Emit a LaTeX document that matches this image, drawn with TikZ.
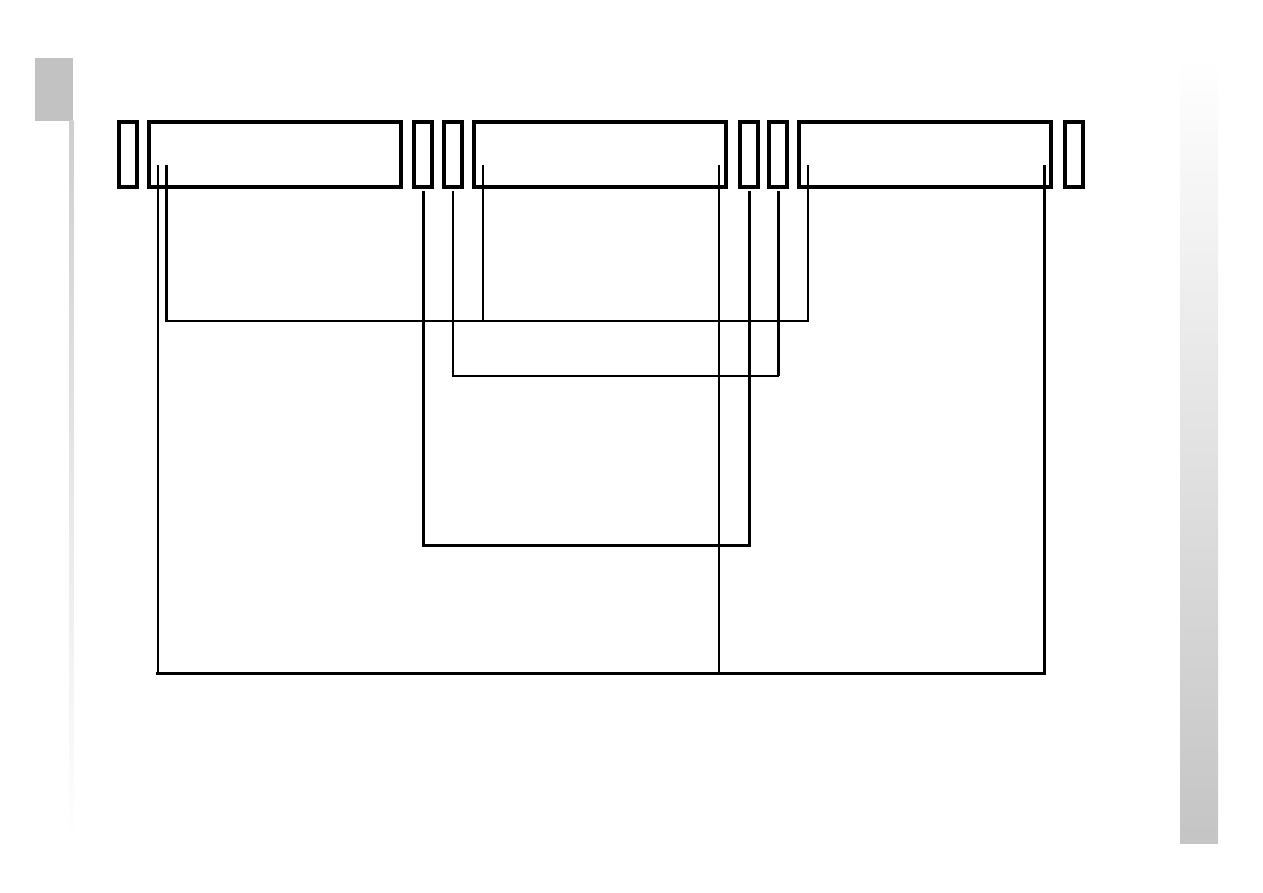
\documentclass[tikz,border=0pt]{standalone}
\begin{document}
\begin{tikzpicture}[x=1pt,y=-1pt,
  box/.style={draw, line width=4pt, inner sep=0pt, outer sep=0pt, minimum height=65pt},
  smallbox/.style={box, minimum width=18pt},
  bigbox/.style={box, minimum width=252pt},
  wire/.style={line width=2.2pt},
  thickwire/.style={line width=3pt},
  line join=miter]
\useasboundingbox (0,0) rectangle (1263,893);
% decorations
\fill[gray!48] (35,58) rectangle (73,120.7);
\shade[top color=gray!38, bottom color=white] (69.3,120.7) rectangle (73.3,843);
\shade[top color=white, bottom color=gray!46] (1180,58) rectangle (1218,843);
% boxes
\node[smallbox] (s1) at (128,154.5) {};
\node[bigbox]   (b1) at (274.7,154.5) {};
\node[smallbox] (s2) at (423.3,154.5) {};
\node[smallbox] (s3) at (453.3,154.5) {};
\node[bigbox]   (b2) at (600,154.5) {};
\node[smallbox] (s4) at (748.5,154.5) {};
\node[smallbox] (s5) at (778.3,154.5) {};
\node[bigbox]   (b3) at (925,154.5) {};
\node[smallbox] (s6) at (1073.7,154.5) {};
% connector ends
\coordinate (b1a) at (158,165);
\coordinate (b1b) at (166.3,165);
\coordinate (b2a) at (482.7,165);
\coordinate (b2b) at (719,165);
\coordinate (b3a) at (807.7,165);
\coordinate (b3b) at (1044,165);
\coordinate (s2d) at (423.3,191);
\coordinate (s3d) at (452.7,191);
\coordinate (s4d) at (749,191);
\coordinate (s5d) at (778.3,191);
\coordinate (j1) at (482.7,320.7);
\coordinate (j4) at (719,673.3);
% connectors
\draw[wire] (b1b) -- ++(0,155.7) -| (b3a);
\draw[wire] (b2a) -- (j1);
\draw[thickwire] (b1b) -- ++(0,155.7);
\draw[wire] (s3d) -- ++(0,184.7) -| (s5d);
\draw[thickwire] (s5d) -- ++(0,184.7);
\draw[thickwire] (s2d) -- ++(0,354.3) -| (s4d);
\draw[wire] (s4d) -- ++(0,354.3);
\draw[wire] (b1a) -- ++(0,508.3) -| (b3b);
\draw[line width=3.5pt, line cap=rect] (b1a |- j4) -- (b3b |- j4);
\draw[thickwire] (b3b) -- (b3b |- j4);
\draw[wire] (b2b) -- (j4);
\end{tikzpicture}
\end{document}
